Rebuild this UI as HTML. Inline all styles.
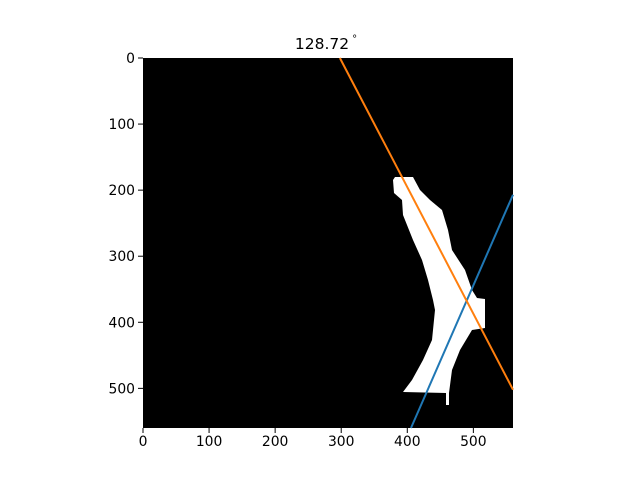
<!DOCTYPE html>
<html><head><meta charset="utf-8"><style>
body{margin:0;background:#fff;width:640px;height:480px;overflow:hidden}
svg text{font-family:"DejaVu Sans","Liberation Sans",sans-serif;font-size:13.9px;fill:#000}
</style></head><body>
<svg id="chart" width="640" height="480" xmlns="http://www.w3.org/2000/svg">
<rect width="640" height="480" fill="#fff"/>
<text x="326" y="49" text-anchor="middle" style="font-size:15.5px">128.72<tspan dx="3" dy="-7" style="font-size:10px">°</tspan></text>
<rect x="143" y="58" width="370" height="370" fill="#000"/>
<path fill="#fff" d="M395,177 L413,177 L420,190 L430,200 L442,210 L448,230 L452,250 L465,270 L472,290 L477,298 L485,299 L485,328 L472,330 L460,350 L452,370 L449,393 L449,405 L446,405 L446,393 L403,392 L412,380 L423,360 L432,340 L434,320 L435,310 L433,300 L428,280 L422,260 L413,240 L407,225 L403,215 L402,200 L394,193 L393,180 Z"/>
<g id="lines"></g>
<g id="ticks"></g>
</svg>
<script>
const xTicks=[0,100,200,300,400,500];
const yTicks=[0,100,200,300,400,500];
const orangeX=[298,560];
const orangeY=[0,502];
const blueX=[405.6,560];
const blueY=[560,207];
const X0=143,Y0=58,S=370/560;
const sx=v=>X0+v*S, sy=v=>Y0+v*S;
const NS="http://www.w3.org/2000/svg";
const lg=document.getElementById('lines');
function line(xs,ys,col,name){
  const l=document.createElementNS(NS,'line');
  l.setAttribute('x1',sx(xs[0]));l.setAttribute('y1',sy(ys[0]));
  l.setAttribute('x2',sx(xs[1]));l.setAttribute('y2',sy(ys[1]));
  l.setAttribute('stroke',col);l.setAttribute('stroke-width','2');
  
  
  lg.appendChild(l);
}
line(blueX,blueY,'#1f77b4','blue-line');
line(orangeX,orangeY,'#ff7f0e','orange-line');
const tg=document.getElementById('ticks');
xTicks.forEach(v=>{
  const t=document.createElementNS(NS,'line');
  t.setAttribute('x1',sx(v));t.setAttribute('x2',sx(v));t.setAttribute('y1',428);t.setAttribute('y2',433);t.setAttribute('stroke','#000');
  
  
  tg.appendChild(t);
  const tx=document.createElementNS(NS,'text');
  tx.setAttribute('x',sx(v));tx.setAttribute('y',446);tx.setAttribute('text-anchor','middle');tx.textContent=v;
  
  
  tg.appendChild(tx);
});
yTicks.forEach(v=>{
  const t=document.createElementNS(NS,'line');
  t.setAttribute('x1',138);t.setAttribute('x2',143);t.setAttribute('y1',sy(v));t.setAttribute('y2',sy(v));t.setAttribute('stroke','#000');
  
  
  tg.appendChild(t);
  const tx=document.createElementNS(NS,'text');
  tx.setAttribute('x',135);tx.setAttribute('y',sy(v)+5);tx.setAttribute('text-anchor','end');tx.textContent=v;
  
  
  tg.appendChild(tx);
});
</script>
</body></html>
